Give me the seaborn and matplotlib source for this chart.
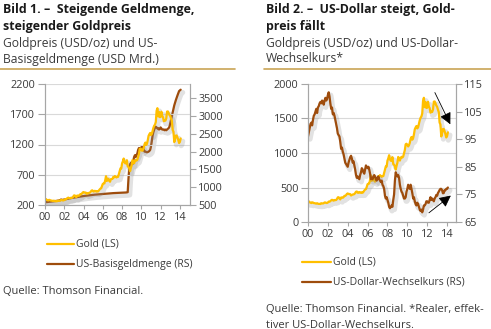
import numpy as np
import pandas as pd
import matplotlib
matplotlib.use("Agg")
import matplotlib.pyplot as plt
import matplotlib.patheffects as pe
from matplotlib.lines import Line2D
import seaborn as sns

# Monthly gold price (USD/oz), Jan 2000 - Feb 2014
gold = [
    284, 300, 286, 280, 275, 285, 282, 274, 273, 270, 266, 272,
    266, 262, 263, 261, 272, 270, 268, 273, 283, 283, 276, 276,
    282, 296, 294, 302, 314, 322, 314, 310, 319, 317, 319, 333,
    357, 359, 340, 328, 355, 356, 351, 360, 379, 379, 389, 407,
    414, 405, 406, 404, 384, 392, 398, 400, 405, 420, 439, 442,
    424, 423, 434, 429, 422, 430, 424, 438, 456, 470, 476, 510,
    549, 555, 557, 610, 676, 596, 633, 632, 598, 585, 627, 629,
    631, 664, 655, 679, 667, 655, 665, 665, 712, 754, 806, 803,
    889, 922, 968, 909, 888, 889, 939, 839, 829, 806, 760, 816,
    858, 943, 924, 890, 928, 945, 934, 949, 996, 1043, 1127, 1134,
    1118, 1095, 1113, 1148, 1205, 1232, 1193, 1215, 1271, 1343, 1370, 1391,
    1356, 1372, 1424, 1474, 1510, 1529, 1572, 1756, 1800, 1665, 1739, 1652,
    1656, 1742, 1673, 1650, 1585, 1596, 1594, 1630, 1744, 1747, 1721, 1688,
    1671, 1627, 1593, 1440, 1414, 1240, 1286, 1347, 1349, 1316, 1275, 1225,
    1244, 1300,
]

# Monthly US monetary base (USD bn), Jan 2000 - Feb 2014
base = [
    620, 590, 580, 585, 588, 590, 592, 593, 595, 597, 600, 605,
    608, 610, 612, 615, 620, 625, 630, 635, 655, 640, 645, 650,
    655, 660, 665, 670, 675, 680, 685, 690, 692, 695, 700, 705,
    708, 712, 715, 718, 722, 726, 730, 734, 737, 740, 744, 748,
    752, 755, 758, 762, 765, 768, 770, 772, 775, 778, 782, 785,
    787, 789, 791, 793, 795, 797, 799, 801, 803, 805, 807, 810,
    812, 814, 816, 818, 820, 822, 823, 824, 826, 828, 830, 832,
    833, 834, 835, 836, 837, 838, 839, 840, 841, 842, 843, 845,
    846, 847, 848, 849, 850, 852, 855, 860, 1250, 1550, 1650, 1680,
    1700, 1650, 1750, 1850, 1900, 1850, 1900, 1950, 2050, 2100, 2080, 2100,
    2120, 2150, 2100, 2050, 2000, 2000, 1990, 1980, 1990, 2000, 2020, 2050,
    2150, 2300, 2450, 2550, 2620, 2680, 2700, 2680, 2650, 2660, 2620, 2640,
    2680, 2650, 2620, 2620, 2620, 2600, 2620, 2600, 2620, 2640, 2660, 2700,
    2800, 2900, 3000, 3100, 3200, 3300, 3380, 3450, 3520, 3580, 3640, 3700,
    3720, 3740,
]

# Monthly real effective US dollar exchange rate, Jan 2000 - Feb 2014
usd = [
    96, 97.5, 99, 100.5, 101, 100, 102, 103.5, 104, 105, 106, 104.5,
    106.5, 107, 108, 108.5, 108, 109, 108.5, 107.5, 109, 110, 109, 109.5,
    111, 112, 110.5, 108, 106, 106.5, 104, 104.5, 103.5, 102, 100.5, 99,
    97, 96.5, 96, 94, 91.5, 92, 90.5, 89.5, 88, 86.5, 86, 85.5,
    85, 86.5, 87.5, 88.5, 89, 88, 86.5, 87, 85.5, 84, 82, 81,
    81.5, 81, 80.5, 82, 83, 84.5, 84, 83, 82.5, 84, 85.5, 85,
    84.5, 85, 84, 82.5, 80.5, 81, 80.5, 81.5, 82, 81.5, 80.5, 80,
    81, 81.5, 80.5, 80, 79.5, 80, 78.5, 78, 77, 74.5, 73.5, 74,
    73, 72, 70.5, 70, 70.5, 71, 70.5, 73, 75, 80, 83, 82,
    81.5, 82, 81, 78.5, 77, 76, 75.5, 74.5, 73.5, 73.5, 74, 76,
    77, 78.5, 77.5, 77, 78.5, 77, 75.5, 73.5, 74, 72.5, 71.5, 71,
    72, 71.5, 70.5, 69.5, 69, 69.5, 68.5, 69.5, 71, 71, 71.5, 72.5,
    72.5, 72, 72, 73, 74, 73, 73.5, 73, 72.5, 73.5, 74, 74.8,
    74.5, 75.5, 76, 76.6, 77, 77, 76.5, 75.4, 75.5, 76.5, 76.5, 77,
    77, 77.5,
]

year_ticks = [2000, 2002, 2004, 2006, 2008, 2010, 2012, 2014]
year_labels = ["00", "02", "04", "06", "08", "10", "12", "14"]

GOLD = "#FFBF00"
BROWN = "#9E4C0C"
RULE = "#C9A455"
GRID = "#D9D9D9"
SPINE = "#A6A6A6"
TXT = "#3A3A3A"

sns.set_theme(style="white")
plt.rcParams["font.family"] = ["Open Sans", "DejaVu Sans"]

n = len(gold)
t = 2000 + np.arange(n) / 12.0
df = pd.DataFrame({"t": t, "gold": gold, "base": base, "usd": usd})

fig = plt.figure(figsize=(4.91, 3.29), dpi=100)
W, H = 491.0, 329.0


def px_axes(x0, y0, x1, y1):
    return fig.add_axes([x0 / W, 1 - y1 / H, (x1 - x0) / W, (y1 - y0) / H])


shadow = [pe.SimpleLineShadow(offset=(1.5, -2.0), shadow_color="#8c8c8c",
                              alpha=0.25, linewidth=3.6), pe.Normal()]


def style_axes(ax, ax2):
    for a in (ax, ax2):
        a.set_facecolor("none")
        a.spines["top"].set_visible(False)
        for s in ("left", "right", "bottom"):
            a.spines[s].set_color(SPINE)
            a.spines[s].set_linewidth(0.8)
        a.tick_params(axis="both", colors=SPINE, labelcolor=TXT,
                      labelsize=7.8, length=4, width=0.8, pad=2, direction="out")
        a.set_xlabel("")
        a.set_ylabel("")
    ax.tick_params(axis="y", left=True, length=5)
    ax.tick_params(axis="x", bottom=True, length=3)
    ax2.tick_params(axis="y", right=True, length=4)
    ax.yaxis.grid(True, color=GRID, linewidth=0.8)
    ax.xaxis.grid(False)
    ax2.grid(False)
    ax.set_xticks(year_ticks)
    ax.set_xticklabels(year_labels)


# ---- Chart 1: gold vs. monetary base ----
ax1 = px_axes(45, 84, 190, 205)
ax1b = ax1.twinx()
sns.lineplot(data=df, x="t", y="gold", ax=ax1, color=GOLD, linewidth=1.6,
             estimator=None)
sns.lineplot(data=df, x="t", y="base", ax=ax1b, color=BROWN, linewidth=1.6,
             estimator=None)
ax1.lines[-1].set_path_effects(shadow)
ax1b.lines[-1].set_path_effects(shadow)
ax1.set_xlim(2000, 2015.05)
ax1.set_ylim(200, 2200)
ax1.set_yticks([200, 700, 1200, 1700, 2200])
ax1b.set_ylim(500, 3900)
ax1b.set_yticks([500, 1000, 1500, 2000, 2500, 3000, 3500])
style_axes(ax1, ax1b)
ax1.set_zorder(ax1b.get_zorder() + 1)

# ---- Chart 2: gold vs. real effective dollar ----
ax2 = px_axes(308, 84, 456, 222)
ax2b = ax2.twinx()
sns.lineplot(data=df, x="t", y="gold", ax=ax2, color=GOLD, linewidth=1.6,
             estimator=None)
sns.lineplot(data=df, x="t", y="usd", ax=ax2b, color=BROWN, linewidth=1.6,
             estimator=None)
ax2.lines[-1].set_path_effects(shadow)
ax2b.lines[-1].set_path_effects(shadow)
ax2.set_xlim(2000, 2014.9)
ax2.set_ylim(0, 2000)
ax2.set_yticks([0, 500, 1000, 1500, 2000])
ax2b.set_ylim(65, 115)
ax2b.set_yticks([65, 75, 85, 95, 105, 115])
style_axes(ax2, ax2b)

# trend arrows
arrow_kw = dict(arrowstyle="-|>,head_length=0.7,head_width=0.35",
                color="#555555", lw=0.6, mutation_scale=10)
ax2b.annotate("", xy=(2014.45, 99.5), xytext=(2012.65, 112.8),
              arrowprops=dict(**arrow_kw, fc="black", ec="black"),
              annotation_clip=False)
ax2b.annotate("", xy=(2014.6, 75.2), xytext=(2011.95, 67.7),
              arrowprops=dict(**arrow_kw, fc="black", ec="black"),
              annotation_clip=False)

# ---- Headings ----
def heading(x, lines_bold, lines_reg, rule):
    y = 10
    for s in lines_bold:
        fig.text(x / W, 1 - y / H, s, fontsize=8.9, fontweight="bold",
                 color="#1a1a1a", va="center", ha="left")
        y += 16.5
    for s in lines_reg:
        fig.text(x / W, 1 - y / H, s, fontsize=8.7, color=TXT,
                 va="center", ha="left")
        y += 16
    fig.add_artist(Line2D([rule[0] / W, rule[1] / W], [1 - 69 / H, 1 - 69 / H],
                          color=RULE, linewidth=1.2))


heading(3, ["Bild 1. –  Steigende Geldmenge,", "steigender Goldpreis"],
        ["Goldpreis (USD/oz) und US-", "Basisgeldmenge (USD Mrd.)"], (0, 235))
heading(266, ["Bild 2. –  US-Dollar steigt, Gold-", "preis fällt"],
        ["Goldpreis (USD/oz) und US-Dollar-", "Wechselkurs*"], (264, 491))

# ---- Legends ----
def legend_entry(x0, x1, y, color, label):
    fig.add_artist(Line2D([x0 / W, x1 / W], [1 - y / H, 1 - y / H],
                          color=color, linewidth=1.6))
    fig.text((x1 + 2) / W, 1 - y / H, label, fontsize=7.5, color=TXT,
             va="center", ha="left")


legend_entry(47, 74, 244, GOLD, "Gold (LS)")
legend_entry(47, 74, 264, BROWN, "US-Basisgeldmenge (RS)")
legend_entry(302, 331, 262, GOLD, "Gold (LS)")
legend_entry(302, 331, 282, BROWN, "US-Dollar-Wechselkurs (RS)")

# ---- Sources ----
fig.text(3 / W, 1 - 291 / H, "Quelle: Thomson Financial.", fontsize=8.0,
         color=TXT, va="center", ha="left")
fig.text(266 / W, 1 - 309 / H, "Quelle: Thomson Financial. *Realer, effek-",
         fontsize=8.0, color=TXT, va="center", ha="left")
fig.text(266 / W, 1 - 325 / H, "tiver US-Dollar-Wechselkurs.",
         fontsize=8.0, color=TXT, va="center", ha="left")

fig.savefig("out.png", dpi=100, facecolor="white")
